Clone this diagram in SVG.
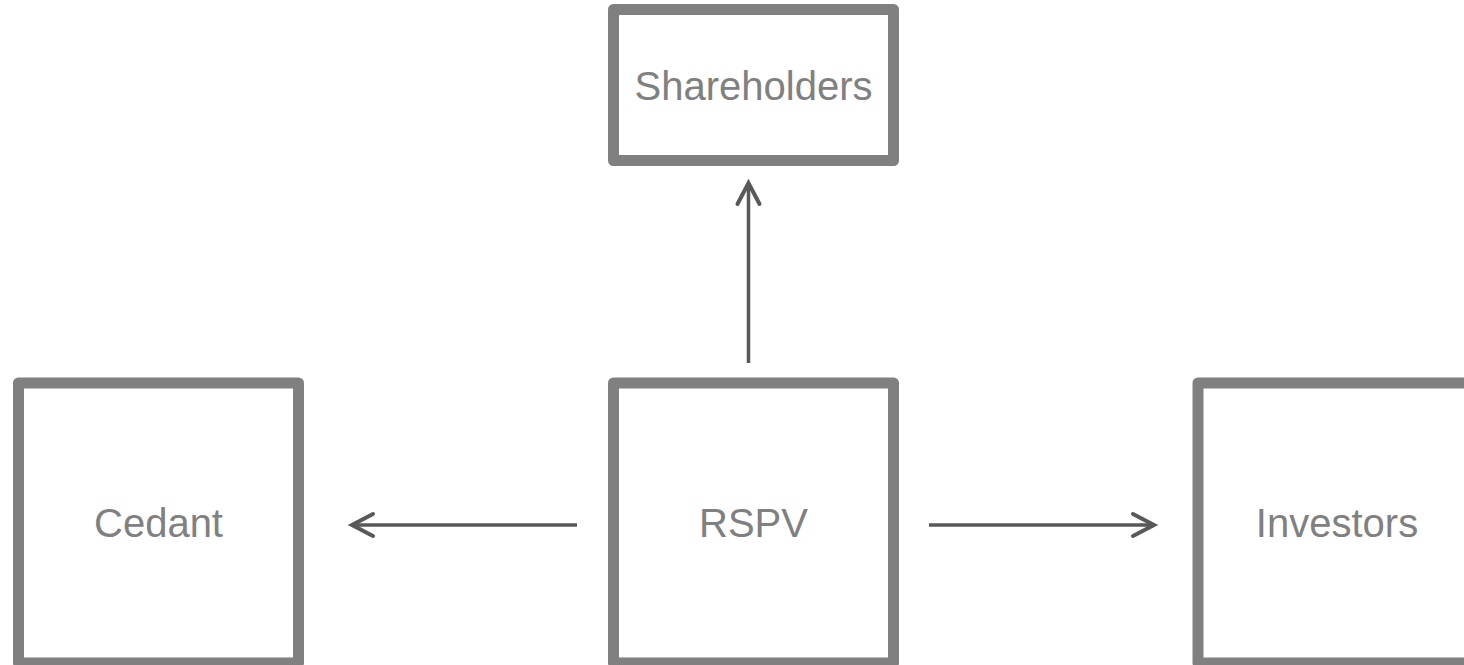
<svg xmlns="http://www.w3.org/2000/svg" width="1464" height="665" viewBox="0 0 1464 665">
<style>
.box{fill:#ffffff;stroke:#808080;stroke-width:11;stroke-linejoin:round}
.lbl{font-family:"Liberation Sans",Arial,sans-serif;font-size:40px;fill:#808080;text-anchor:middle}
.conn{fill:none;stroke:#595959;stroke-width:3.5;marker-end:url(#arr)}
</style>
<defs>
<marker id="arr" markerUnits="userSpaceOnUse" viewBox="-26 -16 32 32" markerWidth="32" markerHeight="32" refX="0" refY="0" orient="auto">
<path d="M-21 -11 L0 0 L-21 11" fill="none" stroke="#595959" stroke-width="4" stroke-linecap="round" stroke-linejoin="miter"/>
</marker>
</defs>
<rect width="1464" height="665" fill="#ffffff"/>
<g id="connectors">
<line class="conn" x1="577" y1="525" x2="352" y2="525"/>
<line class="conn" x1="929" y1="525" x2="1154" y2="525"/>
<line class="conn" x1="748.5" y1="363" x2="748.5" y2="183"/>
</g>
<g id="shareholders">
<rect class="box" x="613.5" y="9.5" width="280" height="151"/>
<text class="lbl" x="753.5" y="100">Shareholders</text>
</g>
<g id="rspv">
<rect class="box" x="613.5" y="383" width="280" height="280"/>
<text class="lbl" x="753.5" y="537">RSPV</text>
</g>
<g id="cedant">
<rect class="box" x="18.5" y="383" width="280" height="280"/>
<text class="lbl" x="158.5" y="537">Cedant</text>
</g>
<g id="investors">
<rect class="box" x="1198" y="383" width="280" height="280"/>
<text class="lbl" x="1337" y="537">Investors</text>
</g>
</svg>
